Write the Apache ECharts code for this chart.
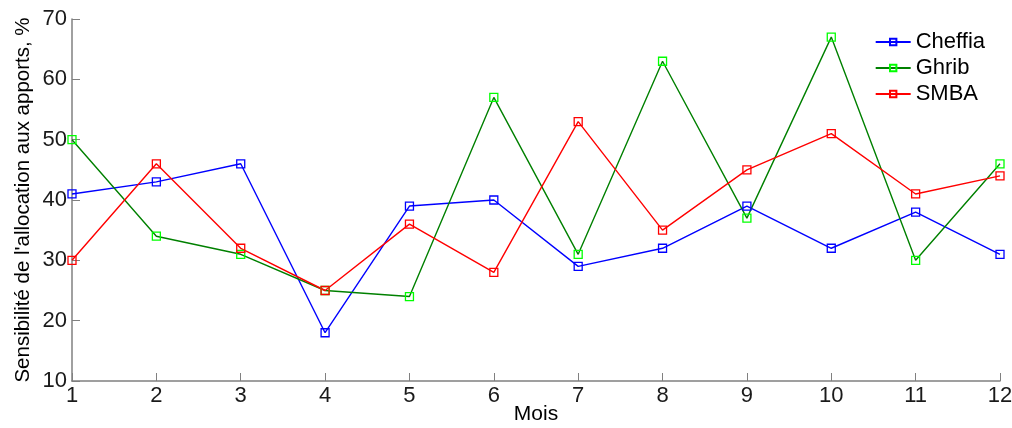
<!DOCTYPE html>
<html><head><meta charset="utf-8">
<script src="https://cdn.jsdelivr.net/npm/echarts@6/dist/echarts.min.js"></script>
<style>html,body{margin:0;padding:0;background:#fff}#c{width:1012px;height:428px}</style>
</head><body><div id="c"></div>
<script>
const months = ['1','2','3','4','5','6','7','8','9','10','11','12'];
const cheffia = [41, 43, 46, 18, 39, 40, 29, 32, 39, 32, 38, 31];
const ghrib   = [50, 34, 31, 25, 24, 57, 31, 63, 37, 67, 30, 46];
const smba    = [30, 46, 32, 25, 36, 28, 53, 35, 45, 51, 41, 44];
const yTicks = [10, 20, 30, 40, 50, 60, 70];

const font = 'Liberation Sans, Arial, sans-serif';
function mk(name, data, lineColor, markColor) {
  return {
    name, type: 'line', data: data.map((v,i)=>[i+1, v]),
    symbol: 'rect', symbolSize: 8, showAllSymbol: true,
    lineStyle: { color: lineColor, width: 1.4 },
    itemStyle: { color: 'rgba(0,0,0,0)', borderColor: markColor, borderWidth: 1.3 },
    emphasis: { disabled: true }, animation: false
  };
}
const chart = echarts.init(document.getElementById('c'));
chart.setOption({
  animation: false,
  grid: { left: 72, right: 12, top: 19, bottom: 47, containLabel: false, outerBoundsMode: 'none' },
  legend: {
    right: 22, top: 26, orient: 'vertical', itemWidth: 35, itemHeight: 8, itemGap: 4,
    textStyle: { fontFamily: font, fontSize: 22, color: '#000' },
    data: ['Cheffia','Ghrib','SMBA']
  },
  xAxis: {
    type: 'value', min: 1, max: 12, interval: 1,
    name: 'Mois', nameLocation: 'middle', nameGap: 23, nameMoveOverlap: false,
    nameTextStyle: { fontFamily: font, fontSize: 21, color: '#000', verticalAlign: 'top' },
    axisLine: { show: true, lineStyle: { color: '#808080', width: 1.5 } },
    axisTick: { show: true, inside: true, length: 8, lineStyle: { color: '#808080' } },
    axisLabel: { fontFamily: font, fontSize: 22, color: '#1a1a1a', margin: 4,
      formatter: v => months[v-1] },
    splitLine: { show: false }
  },
  yAxis: {
    type: 'value', min: 10, max: 70, interval: 10,
    name: "Sensibilité de l'allocation aux apports, %", nameLocation: 'middle', nameGap: 38,
    nameMoveOverlap: false,
    nameTextStyle: { fontFamily: font, fontSize: 20.5, color: '#000' },
    axisLine: { show: true, lineStyle: { color: '#808080', width: 1.5 } },
    axisTick: { show: true, inside: true, length: 8, lineStyle: { color: '#808080' } },
    axisLabel: { fontFamily: font, fontSize: 22, color: '#1a1a1a', margin: 5,
      formatter: v => yTicks.includes(v) ? String(v) : '' },
    splitLine: { show: false }
  },
  series: [
    mk('Cheffia', cheffia, '#0000ff', '#0000ff'),
    mk('Ghrib', ghrib, '#008000', '#00ff00'),
    mk('SMBA', smba, '#ff0000', '#ff0000')
  ]
});
</script></body></html>
